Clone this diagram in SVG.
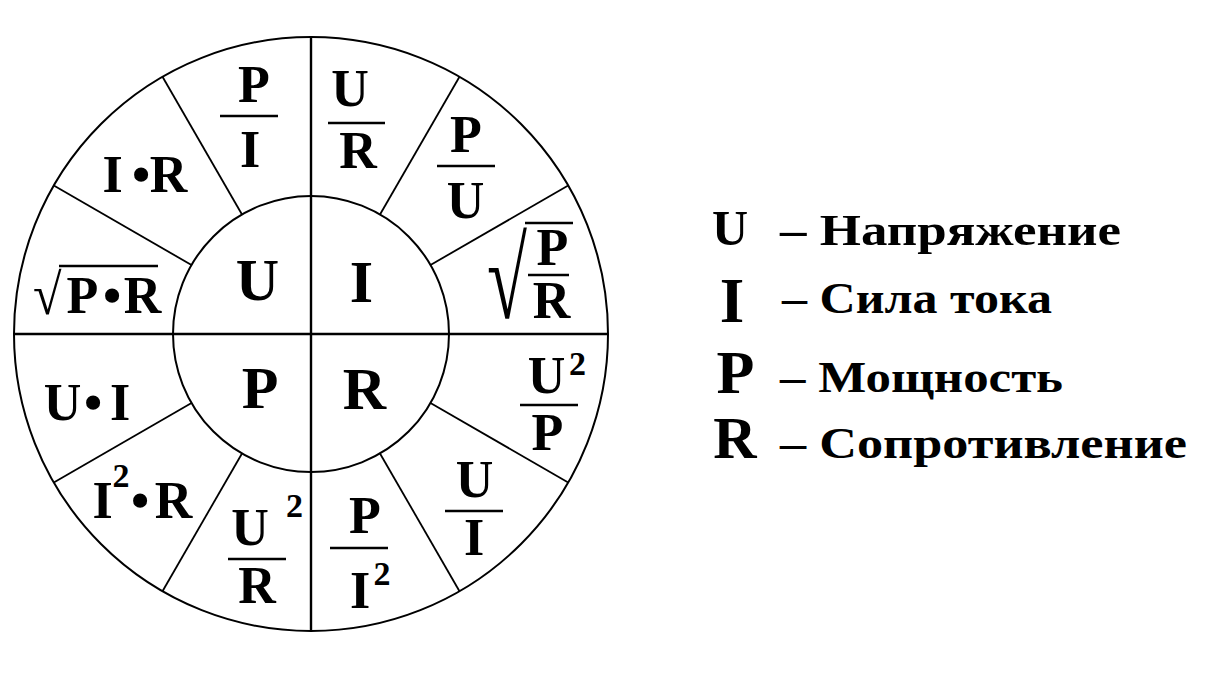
<svg xmlns="http://www.w3.org/2000/svg" width="1207" height="679" viewBox="0 0 1207 679">
<style>
.t{font-family:"Liberation Serif","Times New Roman",serif;font-weight:bold;fill:#000}
.m{text-anchor:middle}
.s52{font-size:52px}
.s60{font-size:60px}
.sup{font-size:34px}
.ring{fill:none;stroke:#000;stroke-width:2}
.axis{stroke:#000;stroke-width:2.4}
.spoke{stroke:#000;stroke-width:1.8}
.bar{stroke:#000;stroke-width:2.6}
.leg{font-size:44px}
</style>
<rect width="1207" height="679" fill="#fff"/>
<g id="wheel">
<circle class="ring" cx="311" cy="334" r="297"/>
<circle class="ring" cx="311" cy="334" r="138"/>
</g>
<g id="connectors">
<line class="axis" x1="311" y1="37" x2="311" y2="631"/>
<line class="axis" x1="14" y1="334" x2="608" y2="334"/>
<line class="spoke" x1="242" y1="214.5" x2="162.5" y2="76.8"/>
<line class="spoke" x1="191.5" y1="265" x2="53.8" y2="185.5"/>
<line class="spoke" x1="380" y1="214.5" x2="459.5" y2="76.8"/>
<line class="spoke" x1="430.5" y1="265" x2="568.2" y2="185.5"/>
<line class="spoke" x1="191.5" y1="403" x2="53.8" y2="482.5"/>
<line class="spoke" x1="242" y1="453.5" x2="162.5" y2="591.2"/>
<line class="spoke" x1="430.5" y1="403" x2="568.2" y2="482.5"/>
<line class="spoke" x1="380" y1="453.5" x2="459.5" y2="591.2"/>
</g>
<g id="center-U"><text class="t m s60" x="257.5" y="300">U</text></g>
<g id="center-I"><text class="t m s60" x="361.5" y="302">I</text></g>
<g id="center-P"><text class="t m s60" x="260" y="408">P</text></g>
<g id="center-R"><text class="t m s60" x="364.5" y="409">R</text></g>
<g id="U-P-over-I">
<text class="t m s52" x="254" y="102">P</text>
<line class="bar" x1="220" y1="116" x2="278" y2="116"/>
<text class="t m s52" x="250" y="167">I</text>
</g>
<g id="U-I-times-R">
<text class="t s52" y="192"><tspan class="m" x="112.5">I</tspan><tspan class="m" x="141">•</tspan><tspan class="m" x="168.5">R</tspan></text>
</g>
<g id="U-sqrt-PR">
<text class="t s52" transform="translate(33 314) scale(1 1.1)" x="0" y="0">√</text>
<line class="bar" x1="59" y1="266" x2="158" y2="266"/>
<text class="t s52" y="313"><tspan class="m" x="82.5">P</tspan><tspan class="m" x="112">•</tspan><tspan class="m" x="142.5">R</tspan></text>
</g>
<g id="I-U-over-R">
<text class="t m s52" x="350" y="106">U</text>
<line class="bar" x1="328" y1="123" x2="385" y2="123"/>
<text class="t m s52" x="358" y="168">R</text>
</g>
<g id="I-P-over-U">
<text class="t m s52" x="466" y="152">P</text>
<line class="bar" x1="437" y1="166" x2="495" y2="166"/>
<text class="t m s52" x="465.5" y="218">U</text>
</g>
<g id="I-sqrt-P-over-R">
<text class="t s52" transform="translate(487 318) scale(1.4 2.2)" x="0" y="0">√</text>
<line class="bar" x1="525" y1="223" x2="573" y2="223"/>
<text class="t m s52" x="552.5" y="265">P</text>
<line class="bar" x1="528" y1="275" x2="569" y2="275"/>
<text class="t m s52" x="551.5" y="318">R</text>
</g>
<g id="P-U-times-I">
<text class="t s52" y="420"><tspan class="m" x="62.5">U</tspan><tspan class="m" x="93">•</tspan><tspan class="m" x="120">I</tspan></text>
</g>
<g id="P-I2-times-R">
<text class="t s52" y="518"><tspan class="m" x="102.5">I</tspan><tspan class="m sup" x="121" y="487">2</tspan><tspan class="m" x="140" y="518">•</tspan><tspan class="m" x="173.5">R</tspan></text>
</g>
<g id="P-U2-over-R">
<text class="t s52" y="545"><tspan class="m" x="250">U</tspan><tspan class="m sup" x="294.5" y="517">2</tspan></text>
<line class="bar" x1="228" y1="559" x2="286" y2="559"/>
<text class="t m s52" x="257" y="603">R</text>
</g>
<g id="R-U2-over-P">
<text class="t s52" y="393"><tspan class="m" x="546.5">U</tspan><tspan class="m sup" x="577.5" y="375">2</tspan></text>
<line class="bar" x1="520" y1="405" x2="578" y2="405"/>
<text class="t m s52" x="547.5" y="450">P</text>
</g>
<g id="R-U-over-I">
<text class="t m s52" x="474.5" y="497">U</text>
<line class="bar" x1="445" y1="511" x2="503" y2="511"/>
<text class="t m s52" x="474" y="555">I</text>
</g>
<g id="R-P-over-I2">
<text class="t m s52" x="365" y="533">P</text>
<line class="bar" x1="330" y1="548" x2="388" y2="548"/>
<text class="t s52" y="608"><tspan class="m" x="360">I</tspan><tspan class="m sup" x="382" y="585">2</tspan></text>
</g>
<g id="legend-U">
<text class="t m" style="font-size:50px" x="730" y="245">U</text>
<text class="t leg" x="780" y="245" textLength="341" lengthAdjust="spacingAndGlyphs">– Напряжение</text>
</g>
<g id="legend-I">
<text class="t m" style="font-size:63px" x="732" y="322">I</text>
<text class="t leg" x="782" y="313" textLength="270" lengthAdjust="spacingAndGlyphs">– Сила тока</text>
</g>
<g id="legend-P">
<text class="t m" style="font-size:62px" x="735.5" y="393">P</text>
<text class="t leg" x="780" y="392" textLength="283" lengthAdjust="spacingAndGlyphs">– Мощность</text>
</g>
<g id="legend-R">
<text class="t m" style="font-size:60px" x="735" y="458">R</text>
<text class="t leg" x="780" y="458" textLength="407" lengthAdjust="spacingAndGlyphs">– Сопротивление</text>
</g>
</svg>
